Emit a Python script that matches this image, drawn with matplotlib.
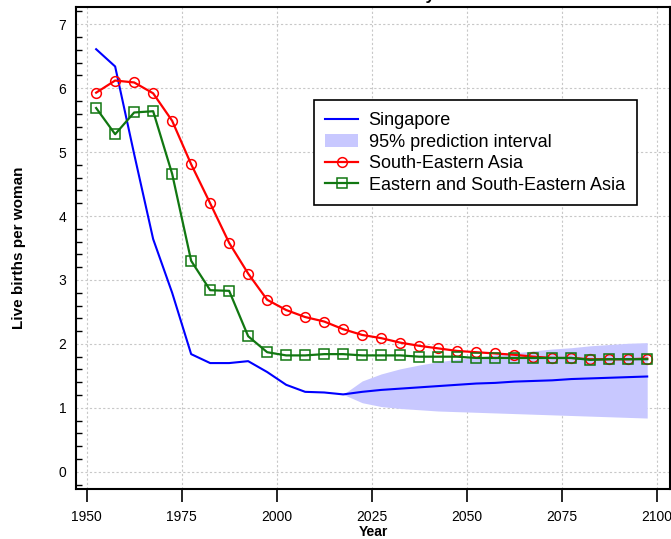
import matplotlib.pyplot as plt
import numpy as np
from matplotlib.ticker import MultipleLocator

plt.rcParams['font.family'] = ['Liberation Sans', 'DejaVu Sans']

# Period midpoints (5-year periods)
years = [1952.5 + 5 * i for i in range(30)]

singapore_est = [6.61, 6.34, 4.97, 3.64, 2.80, 1.84, 1.70, 1.70, 1.73, 1.56,
                 1.36, 1.25, 1.24, 1.21]
proj_years = years[13:]
singapore_proj = [1.21, 1.25, 1.28, 1.30, 1.32, 1.34, 1.36, 1.38, 1.39,
                  1.41, 1.42, 1.43, 1.45, 1.46, 1.47, 1.48, 1.49]
pi_upper = [1.21, 1.42, 1.53, 1.61, 1.67, 1.72, 1.76, 1.79, 1.83,
            1.86, 1.89, 1.92, 1.94, 1.97, 1.99, 2.01, 2.02]
pi_lower = [1.21, 1.08, 1.02, 0.99, 0.97, 0.95, 0.94, 0.93, 0.92,
            0.91, 0.90, 0.89, 0.88, 0.87, 0.86, 0.85, 0.84]

se_asia = [5.93, 6.12, 6.09, 5.92, 5.49, 4.81, 4.20, 3.58, 3.10, 2.69,
           2.53, 2.42, 2.35, 2.23, 2.14, 2.09, 2.02, 1.97, 1.93, 1.89,
           1.87, 1.85, 1.83, 1.80, 1.78, 1.78, 1.76, 1.76, 1.76, 1.77]
e_se_asia = [5.69, 5.28, 5.62, 5.64, 4.66, 3.30, 2.84, 2.83, 2.12, 1.87,
             1.82, 1.82, 1.84, 1.84, 1.82, 1.82, 1.82, 1.80, 1.80, 1.80,
             1.78, 1.78, 1.78, 1.78, 1.78, 1.78, 1.75, 1.76, 1.76, 1.76]

fig = plt.figure(figsize=(6.71, 5.39), dpi=100)
ax = fig.add_axes([76 / 671, 1 - 489 / 539, 594 / 671, 482.3 / 539])

sing_years = years[:14] + proj_years[1:]
sing_vals = singapore_est + singapore_proj[1:]
ax.fill_between(proj_years, pi_lower, pi_upper, color='#c8c8ff', lw=0,
                label='95% prediction interval', zorder=1)
ax.plot(sing_years, sing_vals, color='#0000ff', lw=1.5, label='Singapore', zorder=3)
ax.plot(years, se_asia, color='#ff0000', lw=1.6, marker='o', ms=7,
        mfc='none', mec='#ff0000', mew=1.1, label='South-Eastern Asia', zorder=4)
ax.plot(years, e_se_asia, color='#117711', lw=1.6, marker='s', ms=6.5,
        mfc='none', mec='#117711', mew=1.1, label='Eastern and South-Eastern Asia', zorder=5)

ax.set_xlim(1947.2, 2103.5)
ax.set_ylim(-0.27, 7.275)
ax.set_xticks([1950, 1975, 2000, 2025, 2050, 2075, 2100])
ax.set_yticks(range(0, 8))
ax.yaxis.set_minor_locator(MultipleLocator(0.2))
ax.tick_params(axis='x', direction='out', length=9, width=1.2, labelsize=10, pad=6)
ax.tick_params(axis='y', which='major', direction='in', length=0, labelsize=10, pad=7)
ax.tick_params(axis='y', which='minor', direction='in', length=4.5, width=1)

ax.grid(True, which='major', color='#c8c8c8', lw=0.8, ls=(0, (2, 2)))
ax.set_axisbelow(True)
for s in ax.spines.values():
    s.set_linewidth(1.5)

ax.set_xlabel('Year', fontsize=10, fontweight='bold', labelpad=1)
ax.set_ylabel('Live births per woman', fontsize=11, fontweight='bold')
ax.yaxis.set_label_coords(-0.085, 0.5)

handles, labels = ax.get_legend_handles_labels()
order = [1, 0, 2, 3]
leg = ax.legend([handles[i] for i in order], [labels[i] for i in order],
                loc='upper left', bbox_to_anchor=(0.40, 0.806), borderaxespad=0,
                fontsize=13, frameon=True, fancybox=False, edgecolor='black',
                handlelength=1.8, labelspacing=0.25, handletextpad=0.6,
                borderpad=0.65, framealpha=1)
leg.get_frame().set_linewidth(1.2)

fig.text(383 / 671, 1.0, 'Total Fertility', ha='center', va='baseline',
         fontsize=12, fontweight='bold')

fig.savefig('out.png', dpi=100)
